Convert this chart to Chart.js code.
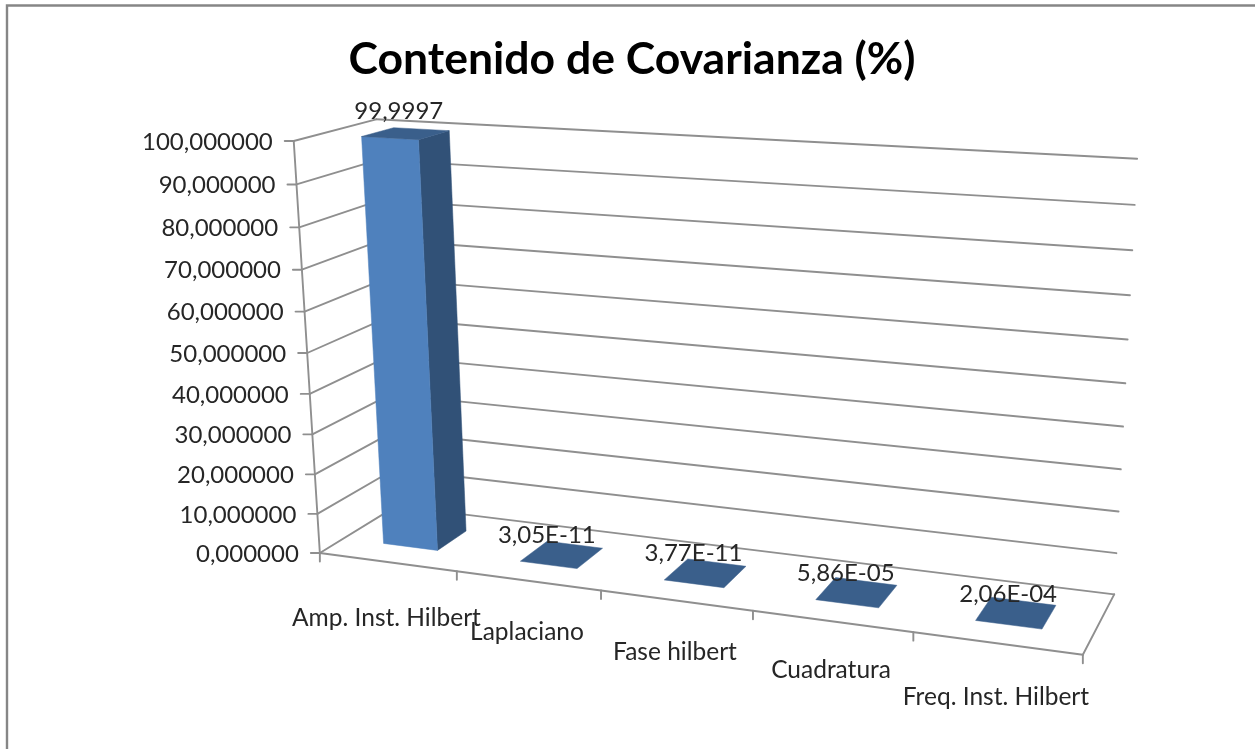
<!DOCTYPE html>
<html><head><meta charset="utf-8">
<script src="https://cdn.jsdelivr.net/npm/chart.js@4/dist/chart.umd.js"></script>
<style>html,body{margin:0;padding:0;background:#fff;overflow:hidden}canvas{display:block}</style>
</head><body><canvas id="c" width="1255" height="749"></canvas>
<script>
const titleText = 'Contenido de Covarianza (%)';
const categories = ['Amp. Inst. Hilbert','Laplaciano','Fase hilbert','Cuadratura','Freq. Inst. Hilbert'];
const covariance = [99.9997, 3.05e-11, 3.77e-11, 5.86e-5, 2.06e-4];
const valueLabels = ['99,9997','3,05E-11','3,77E-11','5,86E-05','2,06E-04'];
const axisMax = 100, axisStep = 10;

// camera calibration: box coordinates [across, depth, height] -> screen
const viewAnchors = [
 [0,0,0,318,552],[1,0,0,1083,653],[1,1,0,1113,595],[0,1,0,399,505],
 [0,0,1,296,141],[0,1,1,373,120],[1,1,1,1137,159],
 [.2,0,0,456,574],[.4,0,0,601,592],[.6,0,0,753,611],[.8,0,0,913,632],
 [0,0,.8,300,227],[0,0,.5,307,352],[0,0,.2,315,474],
 [1,1,.5,1126,383],[1,1,.9,1135,205],[1,1,.1,1117,553]
];
const labelDrop = [56,51,52,49,54];
const valueLabelNudge = [[-7,-22],[-15,-19],[-12,-20],[-11,-19],[-8,-19]];

function solveCamera(pts){
  const n=11, A=Array.from({length:n},()=>new Array(n+1).fill(0));
  const add=(r,b)=>{for(let i=0;i<n;i++){for(let j=0;j<n;j++)A[i][j]+=r[i]*r[j];A[i][n]+=r[i]*b;}};
  for(const [X,Y,Z,sx,sy] of pts){
    const x=sx/1000,y=sy/1000;
    add([X,Y,Z,1,0,0,0,0,-x*X,-x*Y,-x*Z],x);
    add([0,0,0,0,X,Y,Z,1,-y*X,-y*Y,-y*Z],y);
  }
  for(let c=0;c<n;c++){
    let p=c;for(let r=c+1;r<n;r++)if(Math.abs(A[r][c])>Math.abs(A[p][c]))p=r;
    [A[c],A[p]]=[A[p],A[c]];
    for(let r=0;r<n;r++){if(r===c)continue;const f=A[r][c]/A[c][c];for(let k=c;k<=n;k++)A[r][k]-=f*A[c][k];}
  }
  return A.map((row,i)=>row[n]/row[i]);
}
const cam = solveCamera(viewAnchors);
function project(u,w,h){
  const d=cam[8]*u+cam[9]*w+cam[10]*h+1;
  return {x:1000*(cam[0]*u+cam[1]*w+cam[2]*h+cam[3])/d, y:1000*(cam[4]*u+cam[5]*w+cam[6]*h+cam[7])/d};
}

class PerspectiveValueScale extends Chart.LinearScale {
  static id='perspectiveValue';
  static defaults=Chart.LinearScale.defaults;
  heightOf(v){ return (v-this.min)/(this.max-this.min); }
  getPixelForValue(v){ return project(0,0,this.heightOf(v)).y; }
  _computeLabelArea(){ return undefined; }
  _computeLabelItems(ca){
    const items=super._computeLabelItems(ca);
    items.forEach((it,i)=>{
      const p=project(0,0,this.heightOf(this.ticks[i].value));
      it.options.translation=[p.x-21,p.y+1];
      it.options.textAlign='right'; it.options.textBaseline='middle'; it.textOffset=0;
    });
    return items;
  }
}
class PerspectiveCategoryScale extends Chart.CategoryScale {
  static id='perspectiveCategory';
  static defaults=Chart.CategoryScale.defaults;
  _computeLabelArea(){ return undefined; }
  _computeLabelItems(ca){
    const items=super._computeLabelItems(ca);
    items.forEach((it,i)=>{
      const p=project((i+.5)/categories.length,0,0);
      it.options.translation=[p.x-1,p.y+labelDrop[i]];
      it.options.textAlign='center'; it.options.textBaseline='middle'; it.textOffset=0;
    });
    return items;
  }
}
Chart.register(PerspectiveValueScale,PerspectiveCategoryScale);

const GRID='#8f8f8f', LW=1.9, INK='#262626';
function shade(hex,f){const n=parseInt(hex.slice(1),16);return `rgb(${(n>>16&255)*f|0},${(n>>8&255)*f|0},${(n&255)*f|0})`;}
function poly(ctx,pts,fill){ctx.beginPath();pts.forEach((p,i)=>i?ctx.lineTo(p.x,p.y):ctx.moveTo(p.x,p.y));ctx.closePath();ctx.fillStyle=fill;ctx.fill();ctx.strokeStyle=fill;ctx.lineWidth=.5;ctx.stroke();}
function seg(ctx,a,b){ctx.beginPath();ctx.moveTo(a.x,a.y);ctx.lineTo(b.x,b.y);ctx.stroke();}

const box3d={
  id:'box3d',
  beforeDraw(chart){
    const ctx=chart.ctx;ctx.save();
    ctx.strokeStyle='#868686';ctx.lineWidth=2.4;
    ctx.beginPath();ctx.moveTo(7,749);ctx.lineTo(7,5.5);ctx.lineTo(1255,5.5);ctx.stroke();
    ctx.restore();
  },
  beforeDatasetsDraw(chart){
    const ctx=chart.ctx,ys=chart.scales.y,n=categories.length;
    ctx.save();ctx.strokeStyle=GRID;ctx.lineWidth=LW;ctx.lineCap='round';
    ys.ticks.forEach(t=>{
      const h=ys.heightOf(t.value);
      const f=project(0,0,h),l=project(0,1,h),b=project(1,1,h);
      seg(ctx,{x:f.x-9,y:f.y},f);seg(ctx,f,l);seg(ctx,l,b);
    });
    seg(ctx,project(0,0,0),project(0,0,1));
    seg(ctx,project(0,0,0),project(1,0,0));
    seg(ctx,project(1,0,0),project(1,1,0));
    for(let i=0;i<=n;i++){const p=project(i/n,0,0);seg(ctx,p,{x:p.x,y:p.y+8.5});}
    ctx.restore();
  },
  beforeDatasetDraw(chart,args){
    const ctx=chart.ctx,xs=chart.scales.x,ys=chart.scales.y,ds=chart.data.datasets[args.index];
    const meta=args.meta,front=.3,back=.7;
    ctx.save();
    meta.data.forEach((el,i)=>{
      const u0=xs.getDecimalForPixel(el.x-el.width/2),u1=xs.getDecimalForPixel(el.x+el.width/2);
      const h=ys.heightOf(ds.data[i]);
      const c=ds.backgroundColor;
      if(h>.001){
        poly(ctx,[project(u1,front,0),project(u1,back,0),project(u1,back,h),project(u1,front,h)],shade(c,.63));
        const a=project(u0,front,0),b=project(u1,front,0),t1=project(u1,front,h),t0=project(u0,front,h);
        poly(ctx,[a,b,t1,t0],c);
      }
      poly(ctx,[project(u0,front,h),project(u1,front,h),project(u1,back,h),project(u0,back,h)],shade(c,.74));
    });
    ctx.restore();
    return false;
  },
  afterDatasetsDraw(chart){
    const ctx=chart.ctx,xs=chart.scales.x,ys=chart.scales.y;
    ctx.save();ctx.font='24px Lato';ctx.fillStyle=INK;ctx.textAlign='center';ctx.textBaseline='middle';
    valueLabels.forEach((s,i)=>{
      const u=xs.getDecimalForPixel(xs.getPixelForValue(i));
      const p=project(u,.5,ys.heightOf(covariance[i]));
      ctx.fillText(s,p.x+valueLabelNudge[i][0],p.y+valueLabelNudge[i][1]);
    });
    ctx.restore();
  }
};

new Chart(document.getElementById('c'),{
  type:'bar',
  data:{labels:categories,datasets:[{label:'Contenido de Covarianza (%)',data:covariance,backgroundColor:'#4F81BD',categoryPercentage:.4,barPercentage:1}]},
  options:{
    responsive:false,animation:false,
    layout:{padding:{left:9,top:0,right:0,bottom:0}},
    plugins:{legend:{display:false},tooltip:{enabled:false},
      title:{display:true,text:titleText,color:'#000',font:{family:'Lato',size:44.5,weight:'bold'},padding:{top:33,bottom:10}}},
    scales:{
      x:{type:'perspectiveCategory',offset:true,grid:{display:false},border:{display:false},
         ticks:{color:INK,font:{family:'Lato',size:24.5},autoSkip:false,minRotation:0,maxRotation:0}},
      y:{type:'perspectiveValue',min:0,max:axisMax,grid:{display:false},border:{display:false},
         ticks:{stepSize:axisStep,color:INK,font:{family:'Lato',size:24},callback:v=>v.toFixed(6).replace('.',',')}}
    }
  },
  plugins:[box3d]
});
</script></body></html>
